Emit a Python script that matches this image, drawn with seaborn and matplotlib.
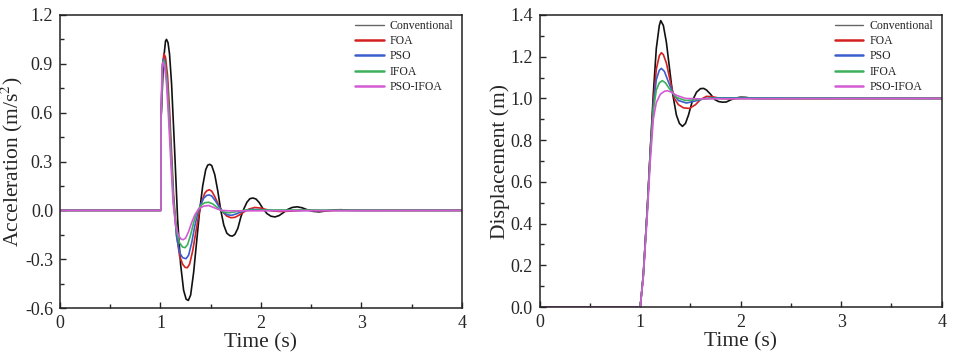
import numpy as np
import pandas as pd
import seaborn as sns
import matplotlib
matplotlib.use("Agg")
import matplotlib.pyplot as plt
from matplotlib.ticker import MultipleLocator

# ---- acceleration (left panel) ----
acc_conv_t = [0, 1.004, 1.005, 1.03, 1.05, 1.06, 1.075, 1.09, 1.11, 1.14, 1.17, 1.20, 1.23, 1.255,
              1.277, 1.30, 1.33, 1.36, 1.39, 1.42, 1.45, 1.47, 1.49, 1.51, 1.54, 1.57, 1.60, 1.63,
              1.66, 1.69, 1.715, 1.74, 1.77, 1.80, 1.83, 1.86, 1.89, 1.92, 1.95, 1.98, 2.02, 2.06,
              2.10, 2.14, 2.18, 2.22, 2.26, 2.31, 2.36, 2.41, 2.46, 2.52, 2.58, 2.64, 2.72, 2.80,
              2.88, 3.0, 4.0]
acc_conv = [0, 0, 0.55, 0.92, 1.04, 1.05, 1.03, 0.96, 0.78, 0.38, -0.05, -0.33, -0.49, -0.545,
            -0.553, -0.52, -0.38, -0.19, 0.0, 0.15, 0.25, 0.278, 0.283, 0.275, 0.22, 0.12, 0.0, -0.09,
            -0.14, -0.155, -0.158, -0.148, -0.11, -0.04, 0.01, 0.05, 0.072, 0.076, 0.07, 0.05, 0.01, -0.02,
            -0.036, -0.04, -0.032, -0.015, 0.004, 0.018, 0.022, 0.016, 0.004, -0.006, -0.009, -0.004, 0.003, 0.004,
            0.001, 0, 0]

acc_foa_t = [0, 1.004, 1.005, 1.02, 1.035, 1.05, 1.07, 1.09, 1.11, 1.13, 1.16, 1.19, 1.22, 1.245,
             1.267, 1.29, 1.32, 1.35, 1.38, 1.41, 1.44, 1.46, 1.486, 1.51, 1.54, 1.58, 1.62, 1.66,
             1.70, 1.74, 1.78, 1.83, 1.88, 1.94, 2.0, 2.06, 2.12, 2.2, 2.3, 2.45, 2.6, 2.75, 4.0]
acc_foa = [0, 0, 0.55, 0.90, 0.962, 0.94, 0.83, 0.62, 0.36, 0.10, -0.15, -0.28, -0.33, -0.35,
           -0.352, -0.33, -0.25, -0.14, -0.03, 0.05, 0.105, 0.12, 0.127, 0.118, 0.085, 0.03, -0.01, -0.035,
           -0.045, -0.043, -0.03, -0.01, 0.008, 0.018, 0.014, 0.004, -0.004, -0.007, -0.004, 0.002, -0.003, 0, 0]

acc_pso_t = [0, 1.004, 1.005, 1.02, 1.03, 1.045, 1.065, 1.085, 1.105, 1.13, 1.16, 1.19, 1.22, 1.254,
             1.28, 1.31, 1.34, 1.37, 1.40, 1.43, 1.46, 1.485, 1.51, 1.55, 1.59, 1.63, 1.67, 1.71,
             1.76, 1.82, 1.9, 2.0, 2.1, 4.0]
acc_pso = [0, 0, 0.55, 0.89, 0.93, 0.91, 0.80, 0.60, 0.36, 0.06, -0.16, -0.26, -0.29, -0.297,
           -0.275, -0.20, -0.10, -0.02, 0.035, 0.075, 0.092, 0.095, 0.088, 0.055, 0.015, -0.015, -0.028, -0.03,
           -0.02, -0.005, 0.006, 0.004, 0, 0]

acc_ifoa_t = [0, 1.004, 1.005, 1.02, 1.03, 1.045, 1.065, 1.085, 1.105, 1.13, 1.16, 1.19, 1.22, 1.244,
              1.27, 1.30, 1.33, 1.36, 1.40, 1.44, 1.48, 1.52, 1.57, 1.62, 1.68, 1.75, 1.85, 4.0]
acc_ifoa = [0, 0, 0.55, 0.88, 0.92, 0.90, 0.79, 0.58, 0.34, 0.05, -0.13, -0.20, -0.225, -0.229,
            -0.21, -0.15, -0.075, -0.015, 0.03, 0.047, 0.05, 0.04, 0.015, -0.008, -0.015, -0.008, 0.002, 0]

acc_pi_t = [0, 1.004, 1.005, 1.015, 1.025, 1.04, 1.06, 1.08, 1.10, 1.125, 1.15, 1.18, 1.205, 1.227,
            1.25, 1.28, 1.31, 1.34, 1.38, 1.43, 1.48, 1.54, 1.6, 1.7, 4.0]
acc_pi = [0, 0, 0.55, 0.86, 0.91, 0.89, 0.78, 0.57, 0.33, 0.05, -0.09, -0.155, -0.176, -0.18,
          -0.17, -0.13, -0.075, -0.03, 0.01, 0.026, 0.03, 0.015, 0, -0.003, 0]

# ---- displacement (right panel) ----
dis_conv_t = [0, 1.0, 1.03, 1.07, 1.10, 1.13, 1.16, 1.19, 1.204, 1.23, 1.26, 1.29, 1.32, 1.36, 1.39,
              1.42, 1.45, 1.48, 1.52, 1.56, 1.60, 1.632, 1.66, 1.70, 1.74, 1.78, 1.82, 1.857, 1.90,
              1.95, 2.0, 2.05, 2.12, 2.2, 4.0]
dis_conv = [0, 0, 0.15, 0.47, 0.75, 1.02, 1.24, 1.35, 1.373, 1.35, 1.27, 1.15, 1.03, 0.92, 0.88,
            0.866, 0.88, 0.92, 0.99, 1.03, 1.047, 1.048, 1.04, 1.02, 0.995, 0.985, 0.982, 0.983, 0.993,
            1.002, 1.006, 1.005, 1.0, 0.999, 1.0]

dis_foa_t = [0, 1.0, 1.03, 1.07, 1.10, 1.13, 1.16, 1.19, 1.21, 1.23, 1.26, 1.30, 1.34, 1.38, 1.43,
             1.49, 1.55, 1.60, 1.66, 1.72, 1.80, 1.9, 2.0, 4.0]
dis_foa = [0, 0, 0.15, 0.47, 0.75, 0.98, 1.14, 1.205, 1.219, 1.21, 1.17, 1.08, 1.0, 0.97, 0.955,
           0.952, 0.97, 0.995, 1.01, 1.008, 1.0, 0.998, 1.0, 1.0]

dis_pso_t = [0, 1.0, 1.03, 1.07, 1.10, 1.13, 1.16, 1.19, 1.21, 1.24, 1.28, 1.33, 1.38, 1.46, 1.55,
             1.65, 1.75, 4.0]
dis_pso = [0, 0, 0.15, 0.47, 0.74, 0.96, 1.09, 1.135, 1.144, 1.13, 1.08, 1.02, 0.99, 0.978, 0.988,
           1.0, 1.003, 1.0]

dis_ifoa_t = [0, 1.0, 1.03, 1.07, 1.10, 1.13, 1.16, 1.19, 1.22, 1.25, 1.30, 1.36, 1.45, 1.55, 1.7, 4.0]
dis_ifoa = [0, 0, 0.15, 0.46, 0.73, 0.94, 1.04, 1.075, 1.085, 1.075, 1.04, 1.005, 0.99, 0.994, 1.0, 1.0]

dis_pi_t = [0, 1.0, 1.03, 1.07, 1.10, 1.13, 1.16, 1.20, 1.24, 1.27, 1.31, 1.36, 1.45, 1.6, 4.0]
dis_pi = [0, 0, 0.14, 0.44, 0.70, 0.90, 0.98, 1.02, 1.034, 1.037, 1.03, 1.015, 1.0, 0.998, 1.0]

labels = ["Conventional", "FOA", "PSO", "IFOA", "PSO-IFOA"]
colors = ["#111111", "#d42020", "#3a5fcd", "#3cb05a", "#d45ad4"]

acc_series = [(acc_conv_t, acc_conv), (acc_foa_t, acc_foa), (acc_pso_t, acc_pso),
              (acc_ifoa_t, acc_ifoa), (acc_pi_t, acc_pi)]
dis_series = [(dis_conv_t, dis_conv), (dis_foa_t, dis_foa), (dis_pso_t, dis_pso),
              (dis_ifoa_t, dis_ifoa), (dis_pi_t, dis_pi)]

sns.set_style("ticks")
plt.rcParams['font.family'] = ['Liberation Serif', 'DejaVu Serif']
plt.rcParams['mathtext.fontset'] = 'stix'

fig = plt.figure(figsize=(9.57, 3.57), dpi=100)
ax1 = fig.add_axes([0.0627, 0.137, 0.420, 0.821])
ax2 = fig.add_axes([0.564, 0.140, 0.420, 0.818])


def draw(ax, series):
    for (t, v), lab, c in zip(series, labels, colors):
        df = pd.DataFrame({"t": t, "v": v})
        sns.lineplot(data=df, x="t", y="v", ax=ax, color=c, label=lab, lw=1.2,
                     sort=False, estimator=None)
    leg = ax.legend(loc="upper right", bbox_to_anchor=(0.99, 1.0), frameon=False,
                    fontsize=8.5, handlelength=2.4, labelspacing=0.28,
                    borderaxespad=0.0, handletextpad=0.5)
    for i, h in enumerate(leg.get_lines()):
        if i == 0:
            h.set_color("#666666")
            h.set_linewidth(1.0)
        else:
            h.set_linewidth(1.8)
    ax.set_xlim(0, 4)
    ax.xaxis.set_major_locator(MultipleLocator(1))
    ax.xaxis.set_minor_locator(MultipleLocator(0.5))
    ax.tick_params(which="both", direction="in", top=False, right=False)
    ax.tick_params(which="major", length=4.5, width=1, labelsize=13, pad=5)
    ax.tick_params(which="minor", length=3, width=1)
    for s in ax.spines.values():
        s.set_visible(True)
        s.set_linewidth(1.1)
        s.set_color("#222222")
    ax.set_xlabel("Time (s)", fontsize=15.5, labelpad=1)


draw(ax1, acc_series)
ax1.set_ylim(-0.6, 1.2)
ax1.yaxis.set_major_locator(MultipleLocator(0.3))
ax1.yaxis.set_minor_locator(MultipleLocator(0.15))
ax1.yaxis.set_major_formatter(matplotlib.ticker.FormatStrFormatter('%.1f'))
ax1.set_ylabel("Acceleration (m/s$^2$)", fontsize=15.5, labelpad=0)

draw(ax2, dis_series)
ax2.set_ylim(0, 1.4)
ax2.yaxis.set_major_locator(MultipleLocator(0.2))
ax2.yaxis.set_minor_locator(MultipleLocator(0.1))
ax2.yaxis.set_major_formatter(matplotlib.ticker.FormatStrFormatter('%.1f'))
ax2.set_ylabel("Displacement (m)", fontsize=15.5, labelpad=0)

fig.savefig("out.png", dpi=100)
